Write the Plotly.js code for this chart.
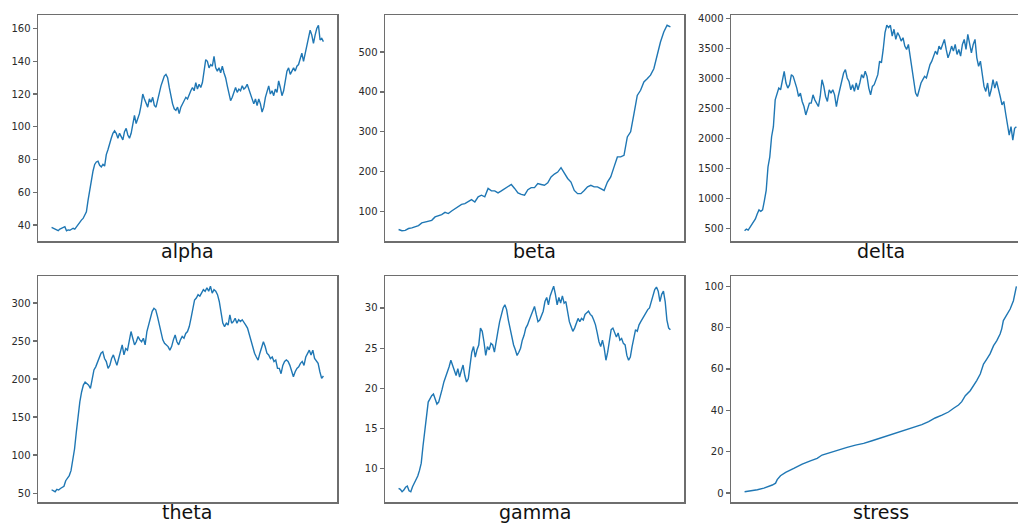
<!DOCTYPE html>
<html>
<head>
<meta charset="utf-8">
<script src="https://cdn.plot.ly/plotly-3.0.1.min.js"></script>
<style>
  html, body { margin: 0; padding: 0; overflow: hidden; background: #fff; }
  #chart { width: 1045px; height: 525px; }
</style>
</head>
<body>
<div id="chart"></div>
<script>
// Series values, sampled evenly along each run
const alpha = [38.5,38,37.5,37,36.5,37.5,38,38.5,39,36.5,37,36.8,37.5,38,37.5,39,40.5,42,43,44,46,48,55,62,68,73,77,78.5,79,76.5,75.5,77,76,83,86,90,93,96,97.5,96,93,96,94,92,97,99,95,93,96,101,107,102,105,108,113,120,117,114,112,117,115,118,113,112,117,122,125,128,131,132,130,124,118,114,111,110,112,108,112,114,116,118,117,120,122,124,122,127,123,126,124,127,135,141,140,136,138,137,143,136,134,136,133,137,133,130,125,120,116,118,121,124,121,123,122,125,123,124,126,123,120,118,114,117,113,117,114,109,112,118,122,125,120,122,119,123,121,128,124,119,122,128,134,136,132,134,136,134,137,138,141,145,140,145,150,156,159,156,151,156,160,162,153,154,152];

const beta = [55,52,53,57.5,59,63,65,71.6,74,76.6,78,86.6,89,92.5,98,95,101.5,107.5,113,118,120,125,130,124,137,141,137,158,152,152,147,152,158,162,168,158,147,143,141,155,160,160,170,168,166,172,187,194,199,210,195,183,174,153,145,145,153,162,166,162,162,158,153,174,187,212,237,237,241,287,300,345,391,404,425,433,442,458,492,525,550,567,563];

const delta = [467,495,478,522,567,623,662,746,813,790,813,969,1136,1527,1695,2030,2197,2643,2755,2839,2811,2978,3118,2923,2839,2895,3062,3034,2950,2839,2699,2755,2616,2532,2392,2476,2588,2588,2727,2643,2588,2532,2699,2978,2867,2699,2616,2811,2755,2811,2727,2532,2699,2839,2978,3090,3146,3006,2950,2811,2895,2783,2923,2811,2923,3062,3006,3118,3034,2839,2727,2867,2895,2978,3062,3286,3258,3481,3760,3883,3844,3883,3704,3816,3648,3760,3704,3620,3676,3537,3481,3565,3369,3118,2923,2755,2699,2811,2923,2978,3034,3006,3118,3230,3286,3369,3453,3397,3537,3481,3565,3648,3481,3341,3425,3537,3453,3565,3397,3481,3369,3565,3648,3481,3732,3592,3425,3565,3648,3341,3202,3286,3034,2867,2783,2923,2699,2811,2978,2839,2950,2839,2699,2560,2616,2420,2253,2058,2197,1974,2169,2197];

const theta = [54.4,53,51.8,55,54,56,57,59,66.3,70.7,73,79.5,92.8,108,130,152,170,183,192,196,194,192,187.6,203,212,216,223,229,234,236,227,223,214,218,227,231.7,223,218,227,236,245,231.7,240,238,249,262.5,253.7,245,249,256,251.5,249,253.7,245,262.5,271,280,289,293,291,282,271,260,251.5,247,245,242.7,238,242.7,251.5,258,249,245,251.5,256,253.7,260,262.5,269,280,293,304,306.6,311,309,313,317.6,315.4,320,315.4,322,313,317.6,315.4,311,302,289,273.5,269,273.5,271,284.5,273.5,275.7,280,273.5,278,275.7,278,273.5,271,267,258,249,240,234,229,225,234,242.7,249,242.7,234,231.7,227,229,223,225,214,214,207,218,223,225,223,218,209.6,203,209.6,214,216,220.6,223,218,229,234,238,231.7,238,227,223,220.6,209.6,200.8,204];

const gamma = [7.57,7.45,7.15,7.36,7.7,7.86,7.27,7.15,7.78,8.2,8.7,9.1,9.8,10.7,12.8,14.9,16.6,18.3,18.7,19.1,19.3,18.5,18.05,18.3,19.3,19.9,20.8,21.4,22.2,22.7,23.5,22.9,22.2,21.6,22.45,21.4,22.2,22.9,21.6,20.8,21.2,22.9,24.5,25.2,23.9,24.8,25.4,27.5,27.1,25.8,24.1,25.2,24.8,25.6,25.4,24.5,25.6,27.1,28.3,29.2,30,30.4,29.8,28.5,27.5,26.2,25.4,24.8,24.1,24.5,25,26,26.6,27.5,27.9,28.5,29,29.6,30.2,29.2,28.3,28.5,29,29.6,30.8,31.3,30.4,31.5,32.1,32.7,31.7,30.4,31.3,30.6,31.5,30.6,30.8,29.2,28.3,27.7,27.1,27.5,28.1,28.7,28.3,28.7,28.5,29.2,29.4,29.6,29.2,29,28.5,27.9,26.9,25.8,25.2,26,25,23.5,24.5,26.2,27.3,27.5,26.9,26.4,26.9,26,26.2,25.6,25.4,24.1,23.5,23.9,25.2,26.2,27.3,27.1,27.9,28.3,28.7,29,29.4,29.8,30,30.8,31.7,32.3,32.6,32.1,30.8,31.7,32.1,30.8,28.5,27.5,27.3];

// stress is sampled unevenly, so it carries its own step positions
const stressStep = [0,22,47,71,89,102,114,120,132,151,181,212,242,267,285,316,346,377,408,438,469,499,530,561,591,622,652,677,701,726,750,769,787,799,812,830,842,854,867,879,891,903,916,928,940,946,952,965,977,989,995,1000];
const stress = [0.65,0.97,1.6,2.4,3.2,3.9,4.8,6.5,8.4,10,11.9,14,15.6,16.8,18.4,19.7,21,22.1,23.2,24,25.3,26.6,27.9,29.2,30.3,31.6,33.1,34.5,36.3,37.7,39.2,41,42.6,44.2,47.1,49.5,51.9,54.4,57.6,62.4,64.8,67.3,71.3,73.7,76.9,79.4,83.4,86.6,89,93,96.3,100];

const panelNames = ['alpha', 'beta', 'delta', 'theta', 'gamma', 'stress'];
const panelValues = [alpha, beta, delta, theta, gamma, stress];
const panelSteps = [null, null, null, null, null, stressStep];
const panelTickStep = [20, 100, 500, 50, 5, 20];

// Figure geometry in pixels
const W = 1045, H = 525;
const colLeft = [38, 385, 731];
const panelW = 299;
const rowTop = [15, 276];
const panelH = 226;

const LINE_BLUE = '#1f77b4';
const SPINE = '#6e6e6e';
const FONT = 'DejaVu Sans, Verdana, sans-serif';

const traces = [];
const layout = {
  width: W, height: H,
  margin: {l: 0, r: 0, t: 0, b: 0},
  paper_bgcolor: '#ffffff',
  plot_bgcolor: '#ffffff',
  showlegend: false,
  font: {family: FONT, color: '#262626'},
  annotations: []
};

function padRange(lo, hi) {
  const span = hi - lo;
  return [lo - 0.05 * span, hi + 0.05 * span];
}

panelNames.forEach((name, i) => {
  const vals = panelValues[i];
  const xs = panelSteps[i] || vals.map((_, k) => k * 1000 / (vals.length - 1));
  const sfx = i === 0 ? '' : String(i + 1);
  const row = Math.floor(i / 3), col = i % 3;

  traces.push({
    type: 'scatter', mode: 'lines',
    x: xs, y: vals,
    xaxis: 'x' + sfx, yaxis: 'y' + sfx,
    line: {color: LINE_BLUE, width: 1.4},
    hoverinfo: 'skip'
  });

  const x0 = colLeft[col], y0 = rowTop[row];
  layout['xaxis' + sfx] = {
    domain: [x0 / W, (x0 + panelW) / W],
    anchor: 'y' + sfx,
    range: padRange(Math.min(...xs), Math.max(...xs)),
    showticklabels: false, ticks: '',
    showgrid: false, zeroline: false,
    showline: true, mirror: true, linecolor: SPINE, linewidth: 1.5
  };
  layout['yaxis' + sfx] = {
    domain: [(H - y0 - panelH) / H, (H - y0) / H],
    anchor: 'x' + sfx,
    range: padRange(Math.min(...vals), Math.max(...vals)),
    tick0: 0, dtick: panelTickStep[i],
    ticks: 'outside', ticklen: 4, tickwidth: 1.2, tickcolor: SPINE,
    tickfont: {family: FONT, size: 10, color: '#2a2a2a'},
    showgrid: false, zeroline: false,
    showline: true, mirror: true, linecolor: SPINE, linewidth: 1.5
  };
  layout.annotations.push({
    text: name,
    xref: 'x' + sfx + ' domain', yref: 'y' + sfx + ' domain',
    x: 0.5, y: 0, xanchor: 'center', yanchor: 'top', yshift: 2,
    borderpad: 0,
    showarrow: false,
    font: {family: FONT, size: 19, color: '#111111'}
  });
});

Plotly.newPlot('chart', traces, layout, {staticPlot: true, displayModeBar: false});
</script>
</body>
</html>
